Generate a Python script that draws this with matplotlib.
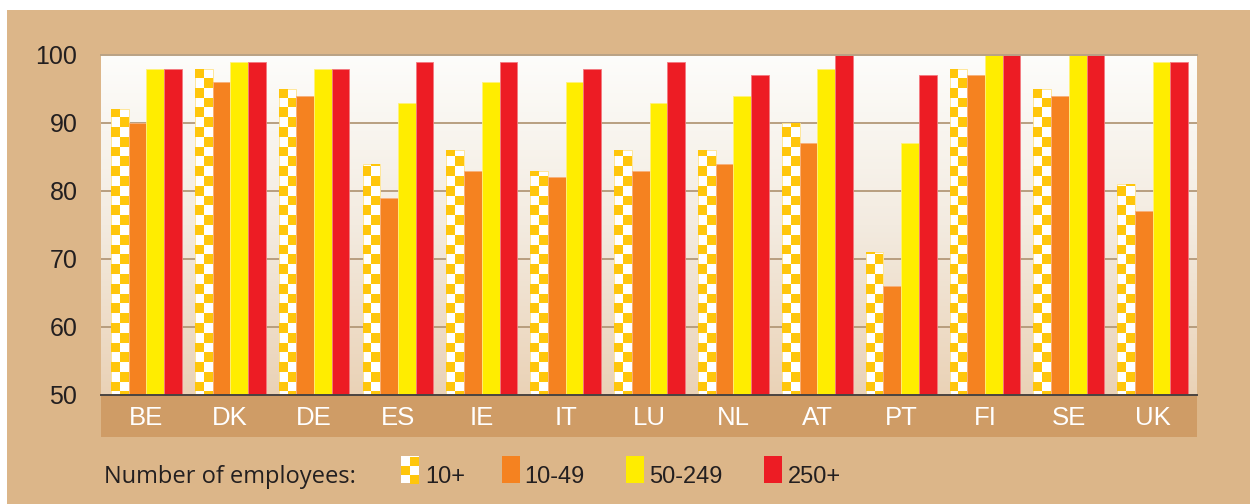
import numpy as np
import matplotlib.pyplot as plt
from matplotlib.patches import Rectangle
from matplotlib.colors import LinearSegmentedColormap

countries = ['BE', 'DK', 'DE', 'ES', 'IE', 'IT', 'LU', 'NL', 'AT', 'PT', 'FI', 'SE', 'UK']
sizes = ['10+', '10-49', '50-249', '250+']
emp_10_plus = [92, 98, 95, 84, 86, 83, 86, 86, 90, 71, 98, 95, 81]
emp_10_49 = [90, 96, 94, 79, 83, 82, 83, 84, 87, 66, 97, 94, 77]
emp_50_249 = [98, 99, 98, 93, 96, 96, 93, 94, 98, 87, 100, 100, 99]
emp_250_plus = [98, 99, 98, 99, 99, 98, 99, 97, 100, 97, 100, 100, 99]

series = [emp_10_plus, emp_10_49, emp_50_249, emp_250_plus]
colors = ['#FFC60B', '#F58220', '#FFED00', '#ED1C24']
edges = ['#FFE38A', '#F8B07A', '#FFF27A', '#F37A80']
tan = '#DCB689'
band = '#CF9C66'
ink = '#231F20'

W, H = 1250, 504
fig = plt.figure(figsize=(W / 100, H / 100), dpi=100, facecolor='white')
fig.patches.append(Rectangle((7 / W, 0), 1, 1 - 10 / H, transform=fig.transFigure,
                             facecolor=tan, edgecolor='none', zorder=-10))

# plot panel
left, right, top, bottom = 101, 1197, 55, 395
ax = fig.add_axes([left / W, 1 - bottom / H, (right - left) / W, (bottom - top) / H])
ax.set_facecolor('none')

# shaded background, white at top fading to pale tan
grad = np.linspace(1, 0, 256).reshape(-1, 1)
cmap = LinearSegmentedColormap.from_list('bg', ['#EAD2B6', '#F3EBE0', '#FDFDFB'])
ax.imshow(grad, cmap=cmap, extent=[0, 1, 0, 1], transform=ax.transAxes,
          aspect='auto', zorder=0)

for g in [60, 70, 80, 90]:
    ax.axhline(g, color='#B39878', lw=1.3, zorder=1)

x = np.arange(len(countries))
w = 0.211
bars = []
for i, (vals, c, e) in enumerate(zip(series, colors, edges)):
    fc = 'white' if i == 0 else c
    b = ax.bar(x + (i - 1.5) * w, np.array(vals) - 50, w, bottom=50,
               color=fc, edgecolor=e, linewidth=0.6, zorder=2)
    bars.append(b)

# checker fill for the 10+ series
period = 1.44
phase = 90.84
for p in bars[0]:
    x0, bw, h = p.get_x(), p.get_width(), p.get_height()
    y_top = 50 + h
    k = int(np.floor((50 - phase) / period)) - 1
    while phase + k * period < y_top:
        y0 = max(phase + k * period, 50)
        y1 = min(phase + (k + 1) * period, y_top)
        if y1 > y0:
            col = k % 2
            ax.add_patch(Rectangle((x0 + col * bw / 2, y0), bw / 2, y1 - y0,
                                   facecolor=colors[0], edgecolor='none', zorder=3))
        k += 1

ax.set_xlim(-0.541, 12.528)
ax.set_ylim(50, 100)
for s in ['left', 'right']:
    ax.spines[s].set_visible(False)
ax.spines['top'].set_color('#B9A285')
ax.spines['top'].set_linewidth(1.4)
ax.spines['bottom'].set_color('#4A4440')
ax.spines['bottom'].set_linewidth(1.4)
ax.spines['bottom'].set_zorder(5)

ax.set_yticks([50, 60, 70, 80, 90, 100])
ax.tick_params(axis='y', length=0, pad=17, labelsize=18, labelcolor=ink)
ax.set_xticks(x, countries)
ax.tick_params(axis='x', length=0, pad=8, labelsize=18.5, labelcolor='white')
for lab in ax.get_xticklabels() + ax.get_yticklabels():
    lab.set_family('Liberation Sans')

# country band under the axis
fig.patches.append(Rectangle((left / W, 1 - 437 / H), (right - left) / W, 42 / H,
                             transform=fig.transFigure, facecolor=band,
                             edgecolor='none', zorder=-5))

# legend row
base = 1 - 483 / H
fig.text(104 / W, base, 'Number of employees:', fontsize=17, color=ink,
         family='Open Sans', va='baseline')
box_x = [401, 502, 626, 764]
txt_x = [425, 524, 649, 788]
for i, lab in enumerate(sizes):
    bx = box_x[i]
    if i == 0:
        fig.patches.append(Rectangle((bx / W, 1 - 483 / H), 18 / W, 27 / H,
                                     transform=fig.transFigure, facecolor='white',
                                     edgecolor='none'))
        for r in range(3):
            col = 1 if r % 2 == 0 else 0
            fig.patches.append(Rectangle(((bx + col * 9) / W, 1 - (457 + (r + 1) * 9) / H),
                                         9 / W, 9 / H, transform=fig.transFigure,
                                         facecolor=colors[0], edgecolor='none'))
    else:
        fig.patches.append(Rectangle((bx / W, 1 - 483 / H), 18 / W, 27 / H,
                                     transform=fig.transFigure, facecolor=colors[i],
                                     edgecolor='none'))
    fig.text(txt_x[i] / W, base, lab, fontsize=17, color=ink,
             family='Liberation Sans', va='baseline')

fig.savefig('out.png', dpi=100, facecolor=fig.get_facecolor())
